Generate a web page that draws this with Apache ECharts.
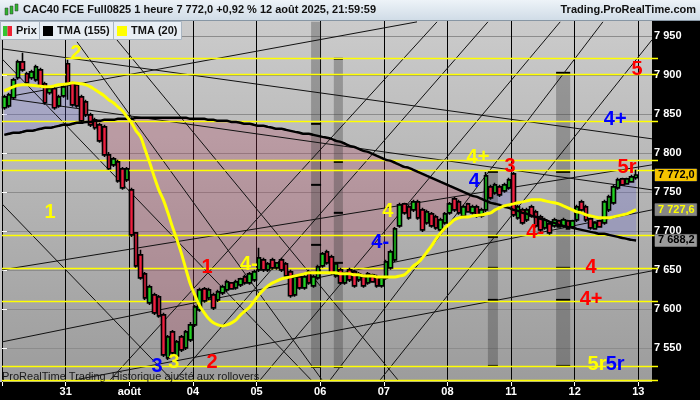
<!DOCTYPE html>
<html><head><meta charset="utf-8">
<script src="https://cdn.jsdelivr.net/npm/echarts@6/dist/echarts.min.js"></script>
<style>html,body{margin:0;padding:0;background:#000}#c{width:700px;height:400px}</style>
</head><body><div id="c"></div>
<script>
// ---- data ----
const dayNames = ['30/07','31/07','01/08','04/08','05/08','06/08','07/08','08/08','11/08','12/08','13/08'];
const hours = ['08h','09h','10h','11h','12h','13h','14h','15h','16h','17h','18h','19h','20h','21h'];
const dayTickLabels = ['31','août','04','05','06','07','08','11','12','13'];
const yTicks = [7550,7600,7650,7700,7750,7800,7850,7900,7950];

const openP = [7857.9,7860.4,7870.7,7896.3,7916.7,7901.4,7896.3,7893.7,7906.5,7888.6,
7877.1,7882.2,7860.4,7873.2,7914.2,7889.9,7887.3,7871.9,7865.5,7848.9,
7842.5,7836.1,7833.5,7797.7,7784.9,7788.7,7779.8,7765.7,7752.9,7697.9,
7669.7,7645.4,7608.3,7618.5,7616.0,7592.9,7537.9,7571.1,7540.4,7564.7,
7550.7,7560.9,7580.1,7599.3,7626.2,7614.7,7618.5,7612.1,7621.1,7624.9,
7633.9,7627.5,7631.3,7641.5,7633.9,7637.7,7650.5,7663.3,7650.5,7663.3,
7653.1,7663.3,7658.2,7647.9,7618.5,7641.5,7627.5,7647.9,7630.0,7640.3,
7655.6,7673.5,7667.1,7642.8,7650.5,7633.9,7650.5,7647.9,7637.7,7641.5,
7633.9,7644.1,7641.5,7630.0,7640.3,7653.1,7663.3,7706.8,7735.0,7731.1,
7727.3,7737.5,7727.3,7710.7,7722.2,7718.3,7701.7,7710.7,7723.5,7741.4,
7737.5,7719.6,7735.0,7723.5,7731.1,7719.6,7727.3,7756.7,7749.1,7756.7,
7751.6,7755.5,7773.4,7717.1,7727.3,7714.5,7731.1,7724.7,7718.3,7704.3,
7709.4,7706.8,7713.2,7706.8,7713.2,7705.5,7714.5,7737.5,7731.1,7715.8,
7703.0,7713.2,7710.7,7727.3,7736.3,7755.5,7767.0,7760.6,7763.1,7768.3];
const closeP = [7871.9,7874.5,7893.7,7916.7,7906.5,7889.9,7903.9,7910.3,7886.0,7864.3,
7882.2,7857.9,7871.9,7884.7,7889.9,7861.7,7860.4,7841.2,7848.9,7836.1,
7832.3,7815.6,7797.7,7780.0,7792.6,7764.4,7755.5,7779.8,7695.3,7655.6,
7640.3,7614.7,7628.7,7595.5,7591.6,7541.7,7564.7,7544.3,7558.3,7548.1,
7571.1,7580.1,7603.1,7624.9,7610.8,7624.9,7601.9,7622.3,7628.7,7635.1,
7626.2,7635.1,7639.0,7633.9,7645.4,7647.9,7665.9,7650.5,7658.2,7653.1,
7659.5,7650.5,7642.8,7617.3,7641.5,7627.5,7641.5,7633.9,7641.5,7654.3,
7671.0,7659.5,7646.7,7658.2,7633.9,7645.4,7637.7,7630.0,7645.4,7630.0,
7645.4,7635.1,7630.0,7640.3,7660.7,7673.5,7703.0,7733.7,7723.5,7717.1,
7737.5,7717.1,7701.7,7724.7,7706.8,7704.3,7714.5,7722.2,7735.0,7727.3,
7723.5,7731.1,7724.7,7731.1,7719.6,7727.3,7770.8,7742.7,7759.3,7746.5,
7759.3,7765.7,7720.9,7731.1,7710.7,7727.3,7719.6,7706.8,7701.7,7714.5,
7697.9,7714.5,7705.5,7714.5,7703.0,7713.2,7731.1,7727.3,7714.5,7704.3,
7710.7,7705.5,7737.5,7743.9,7756.7,7765.7,7759.3,7767.0,7769.5,7772.0];
const lowP = [7855.3,7857.9,7868.1,7893.7,7903.9,7887.3,7893.7,7891.1,7883.5,7861.7,
7874.5,7855.3,7857.9,7870.7,7868.1,7859.1,7857.9,7838.7,7846.3,7833.5,
7829.7,7813.1,7795.1,7778.5,7782.3,7761.9,7752.9,7763.1,7692.7,7653.1,
7637.7,7612.1,7605.7,7592.9,7589.1,7539.1,7535.3,7541.7,7537.9,7545.5,
7548.1,7558.3,7577.5,7596.8,7608.3,7612.1,7599.3,7609.5,7618.5,7622.3,
7624.9,7624.9,7628.7,7631.3,7631.3,7635.1,7647.9,7647.9,7647.9,7650.5,
7650.5,7647.9,7640.3,7614.7,7616.0,7624.9,7624.9,7631.3,7627.5,7637.7,
7653.1,7656.9,7644.1,7640.3,7631.3,7631.3,7635.1,7627.5,7635.1,7627.5,
7631.3,7633.9,7627.5,7627.5,7637.7,7650.5,7660.7,7704.3,7720.9,7714.5,
7724.7,7714.5,7699.1,7708.1,7704.3,7701.7,7699.1,7708.1,7720.9,7724.7,
7720.9,7717.1,7723.5,7720.9,7717.1,7717.1,7724.7,7740.1,7746.5,7743.9,
7749.1,7752.9,7718.3,7714.5,7708.1,7711.9,7717.1,7704.3,7699.1,7701.7,
7695.3,7704.3,7704.3,7704.3,7701.7,7704.3,7711.9,7724.7,7711.9,7701.7,
7701.7,7704.3,7708.1,7724.7,7733.7,7752.9,7758.0,7759.3,7761.9,7765.7];
const highP = [7874.5,7877.1,7896.3,7919.3,7928.3,7903.9,7906.5,7912.9,7909.1,7891.1,
7884.7,7884.7,7874.5,7887.3,7919.3,7891.1,7889.9,7874.5,7868.1,7851.5,
7845.1,7838.7,7836.1,7801.5,7795.1,7791.3,7782.3,7782.3,7755.5,7699.1,
7676.1,7647.9,7631.3,7621.1,7618.5,7595.5,7567.3,7573.7,7560.9,7567.3,
7573.7,7583.9,7605.7,7627.5,7628.7,7627.5,7621.1,7624.9,7631.3,7637.7,
7635.1,7637.7,7640.3,7644.1,7647.9,7650.5,7678.7,7665.9,7660.7,7665.9,
7660.7,7665.9,7660.7,7650.5,7644.1,7644.1,7644.1,7650.5,7644.1,7656.9,
7673.5,7676.1,7669.7,7660.7,7653.1,7647.9,7653.1,7650.5,7647.9,7644.1,
7647.9,7645.4,7644.1,7642.8,7663.3,7676.1,7705.5,7736.3,7736.3,7733.7,
7740.1,7740.1,7729.9,7727.3,7724.7,7720.9,7717.1,7724.7,7737.5,7743.9,
7740.1,7733.7,7736.3,7733.7,7733.7,7729.9,7775.9,7759.3,7761.9,7759.3,
7761.9,7768.3,7775.9,7733.7,7729.9,7729.9,7733.7,7727.3,7720.9,7717.1,
7711.9,7717.1,7714.5,7717.1,7714.5,7714.5,7733.7,7740.1,7733.7,7717.1,
7711.9,7714.5,7740.1,7746.5,7759.3,7768.3,7768.3,7768.3,7772.1,7778.5];
const tma20 = [7879.6,7882.2,7884.7,7886.7,7887.3,7887.3,7886.7,7886.0,7885.4,7884.7,
7884.7,7886.0,7887.3,7887.9,7888.6,7889.9,7889.2,7888.6,7887.3,7884.7,
7880.9,7877.1,7873.2,7868.1,7864.3,7859.1,7854.0,7846.3,7838.7,7828.4,
7820.7,7804.1,7787.5,7769.5,7752.9,7740.1,7723.5,7705.5,7688.9,7671.0,
7650.5,7631.3,7617.3,7604.4,7595.5,7587.8,7582.7,7580.1,7578.8,7580.1,
7582.7,7586.5,7592.9,7598.0,7603.1,7610.8,7618.5,7624.9,7630.0,7633.9,
7636.4,7639.0,7640.3,7641.5,7642.8,7644.1,7645.4,7646.7,7646.7,7646.7,
7646.7,7646.7,7646.7,7646.7,7645.4,7645.4,7645.4,7644.1,7644.1,7642.8,
7642.8,7642.8,7641.5,7641.5,7641.5,7641.5,7641.5,7642.8,7644.1,7649.2,
7655.6,7659.5,7665.9,7673.5,7681.2,7690.2,7697.9,7704.3,7709.4,7714.5,
7717.1,7718.3,7718.3,7719.6,7720.2,7720.9,7722.2,7723.5,7727.3,7729.9,
7732.4,7733.7,7735.0,7736.3,7737.5,7738.8,7740.1,7740.1,7740.1,7738.8,
7737.5,7736.3,7735.0,7732.4,7729.9,7727.3,7724.7,7723.5,7720.9,7719.6,
7718.3,7717.1,7717.1,7717.1,7718.3,7719.6,7720.9,7722.2,7724.7,7727.6];
const tma155 = [7823.3,7824.6,7825.9,7825.9,7827.1,7828.4,7828.4,7829.7,7831.0,7832.3,
7832.3,7833.5,7834.8,7836.1,7836.1,7837.4,7838.7,7838.7,7839.9,7839.9,
7841.2,7841.2,7842.5,7842.5,7842.5,7843.8,7843.8,7843.8,7843.8,7845.1,
7845.1,7845.1,7845.1,7845.1,7845.1,7845.1,7845.1,7845.1,7845.1,7845.1,
7845.1,7843.8,7843.8,7843.8,7843.8,7842.5,7842.5,7841.2,7841.2,7841.2,
7839.9,7839.9,7838.7,7837.4,7837.4,7836.1,7834.8,7834.8,7833.5,7832.3,
7831.0,7831.0,7829.7,7828.4,7827.1,7825.9,7824.6,7824.6,7823.3,7822.0,
7820.7,7819.5,7818.2,7815.6,7814.3,7811.8,7809.2,7807.9,7805.4,7802.8,
7801.5,7799.0,7796.4,7793.9,7791.3,7790.0,7787.5,7784.9,7782.3,7781.1,
7778.5,7775.9,7773.4,7770.8,7768.3,7765.7,7763.1,7760.6,7758.0,7755.5,
7752.9,7750.3,7747.8,7745.2,7743.9,7741.4,7738.8,7736.3,7735.0,7733.7,
7731.1,7729.9,7727.3,7726.0,7723.5,7722.2,7719.6,7718.3,7715.8,7714.5,
7711.9,7710.7,7708.1,7706.8,7705.5,7704.3,7703.0,7701.7,7700.4,7699.1,
7697.9,7696.6,7696.6,7695.3,7694.0,7692.7,7691.4,7690.2,7688.9,7688.2];

// user-drawn objects (slot units along the time axis, price units)
const levelLines = [[7921.8,14],[7901.4,0],[7841.2,0],[7791.3,0],[7778.5,0],[7695.3,0],[7653.1,0],[7610.8,0],[7527.6,0],[7509.0,0]];
const trendLines = [
 [0,7933.4,143,7818.2],[0,7870.7,143,7752.9],[0,7870.7,91.3,7967.9],
 [0,7650.5,143,7784.9],[0,7558.3,143,7727.3],[16.1,7509.7,143,7649.2],
 [0,7735.0,37.4,7509.7],[0,7920.6,68.0,7509.7],[16.5,7942.3,70.4,7509.7],[22.0,7967.9,87.1,7509.7],
 [23.8,7509.7,95.7,7967.9],[38.1,7509.7,106.9,7967.9],[56.8,7509.7,122.8,7967.9],[72.2,7509.7,132.2,7967.9],[83.2,7509.7,143,7944.9]
];
const bands = [[68.0,70.2,7967.9,7526.3],[73.0,75.0,7920.6,7526.3],[106.9,109.1,7775.9,7526.3],[121.9,125.0,7902.7,7526.3]];
const bandMarks = [[0,7837.4],[0,7759.3],[0,7682.5],[0,7526.3],
 [1,7920.6],[1,7788.7],[1,7723.5],[1,7659.5],[1,7526.3],
 [2,7775.9],[2,7692.7],[2,7653.1],[2,7612.1],[2,7527.6],
 [3,7902.7],[3,7775.9],[3,7653.1],[3,7612.1],[3,7527.6]];
const notes = [
 ['1','#ffff00',10.6,7723.5],['2','#ffff00',16.3,7927.0],['3','#0000ff',34.1,7526.3],['3','#ffff00',37.8,7531.4],
 ['2','#ff0000',46.2,7531.4],['1','#ff0000',45.1,7653.1],['4-','#ffff00',54.3,7656.9],['4','#ffff00',84.9,7724.7],
 ['4-','#0000ff',83.2,7685.1],['4+','#ffff00',104.7,7793.9],['4','#0000ff',103.9,7763.1],['3','#ff0000',111.8,7782.3],
 ['4-','#ff0000',117.3,7697.9],['5','#ff0000',139.7,7906.5],['4+','#0000ff',134.9,7842.5],['5r','#ff0000',137.5,7781.1],
 ['4','#ff0000',129.6,7653.1],['4+','#ff0000',129.6,7612.1],['5r','#ffff00',130.9,7528.9],['5r','#0000ff',134.9,7528.9]
];

// ---- build ----
const categories = [];
for (let d = 0; d < 10; d++) for (const h of hours) categories.push(dayNames[d] + ' ' + h);
categories.push(dayNames[10] + ' 08h', dayNames[10] + ' 09h', dayNames[10] + ' 10h');
const NS = categories.length; // 143 slots
const candles = openP.map((o, i) => [o, closeP[i], lowP[i], highP[i]]);
const posDiff = closeP.map((c, i) => Math.max(c - tma155[i], 0));
const negDiff = closeP.map((c, i) => Math.max(tma155[i] - c, 0));
const thou = s => s.replace(/\B(?=(\d{3})+(?!\d))/g, ' ');
const fmt0 = v => thou(String(Math.round(v)));
const fmt1 = v => { const p = v.toFixed(1).split('.'); return thou(p[0]) + ',' + p[1]; };
const FONT = '"Liberation Sans", Arial, sans-serif';
const tickSlots = [0]; for (let k = 1; k <= 10; k++) tickSlots.push(14 * k);

const chart = echarts.init(document.getElementById('c'), null, {renderer: 'canvas'});
const grid = {left: 2, right: 48, top: 21, bottom: 18, show: true, borderWidth: 0,
  backgroundColor: {type: 'linear', x: 0, y: 0, x2: 0, y2: 1, colorStops: [{offset: 0, color: '#cbcbcb'}, {offset: 1, color: '#9c9c9c'}]}};

function lastLabel(bg, fg, fmtVal) {
  return {show: true, position: 'end', distance: 3, backgroundColor: bg, color: fg, fontFamily: FONT, fontWeight: 'bold', fontSize: 11,
    padding: [1, 2, 0, 3], borderColor: '#555', borderWidth: 0.5, formatter: () => fmt1(fmtVal)};
}
function lastMark(val, bg, fg) {
  return {silent: true, symbol: ['none', 'none'], animation: false,
    lineStyle: {color: 'rgba(0,0,0,0)', width: 1, type: 'solid'},
    data: [{yAxis: val}], label: lastLabel(bg, fg, val)};
}

chart.setOption({
  backgroundColor: '#000',
  animation: false,
  grid: grid,
  xAxis: [
    {type: 'category', data: categories, boundaryGap: true, show: false, position: 'top'},
    {type: 'value', min: 0, max: NS, position: 'bottom',
      axisLine: {show: false},
      axisTick: {show: true, customValues: tickSlots, length: 4, lineStyle: {color: '#fff'}},
      axisLabel: {customValues: tickSlots.slice(1), color: '#fff', fontFamily: FONT, fontWeight: 'bold', fontSize: 11, margin: 4,
        formatter: v => dayTickLabels[Math.round(v / 14) - 1] || ''},
      splitLine: {show: true, lineStyle: {color: '#000', width: 1}}}
  ],
  yAxis: {type: 'value', position: 'right', min: 7507, max: 7969, scale: true,
    axisLine: {show: false},
    axisTick: {show: true, customValues: yTicks, length: 5, lineStyle: {color: '#fff'}},
    axisLabel: {customValues: yTicks, color: '#fff', fontFamily: FONT, fontWeight: 'bold', fontSize: 11, margin: 2, formatter: v => fmt0(v)},
    splitLine: {show: true, lineStyle: {color: '#8c8c8c', width: 1}}},
  series: [
    // fill between close and TMA(155)
    {type: 'line', stack: 'pos', data: tma155, showSymbol: false, lineStyle: {opacity: 0}, silent: true, z: 1},
    {type: 'line', stack: 'pos', data: posDiff, showSymbol: false, lineStyle: {opacity: 0}, silent: true, z: 1,
      areaStyle: {color: 'rgba(90,90,210,0.36)'}},
    {type: 'line', stack: 'neg', data: closeP, showSymbol: false, lineStyle: {opacity: 0}, silent: true, z: 1},
    {type: 'line', stack: 'neg', data: negDiff, showSymbol: false, lineStyle: {opacity: 0}, silent: true, z: 1,
      areaStyle: {color: 'rgba(180,65,95,0.38)'}},
    // vertical bands
    {type: 'custom', xAxisIndex: 1, data: bands, silent: true, z: 2, clip: true,
      renderItem: (p, api) => {
        const a = api.coord([api.value(0), api.value(2)]), b = api.coord([api.value(1), api.value(3)]);
        return {type: 'rect', shape: {x: a[0], y: a[1], width: b[0] - a[0], height: b[1] - a[1]}, style: {fill: 'rgba(55,55,55,0.33)'}};
      }},
    {type: 'custom', xAxisIndex: 1, data: bandMarks, silent: true, z: 3, clip: true,
      renderItem: (p, api) => {
        const bd = bands[api.value(0)];
        const a = api.coord([bd[0], api.value(1)]), b = api.coord([bd[1], api.value(1)]);
        return {type: 'line', shape: {x1: a[0], y1: a[1], x2: b[0], y2: b[1]}, style: {stroke: '#000', lineWidth: 2}};
      }},
    // trend lines
    {type: 'custom', xAxisIndex: 1, data: trendLines, silent: true, z: 3, clip: true,
      renderItem: (p, api) => {
        const a = api.coord([api.value(0), api.value(1)]), b = api.coord([api.value(2), api.value(3)]);
        return {type: 'line', shape: {x1: a[0], y1: a[1], x2: b[0], y2: b[1]}, style: {stroke: '#111', lineWidth: 1}};
      }},
    // horizontal levels
    {type: 'custom', xAxisIndex: 1, data: levelLines.map(l => [l[1], l[0]]), silent: true, z: 4, clip: false,
      renderItem: (p, api) => {
        const a = api.coord([api.value(0), api.value(1)]), b = api.coord([NS, api.value(1)]);
        return {type: 'line', shape: {x1: a[0], y1: Math.round(a[1]) + 0.5, x2: b[0] + 6, y2: Math.round(a[1]) + 0.5}, style: {stroke: '#ffff00', lineWidth: 1.5}};
      }},
    // price
    {type: 'candlestick', name: 'Prix', data: candles, barWidth: 4, z: 5,
      itemStyle: {color: '#22d022', color0: '#ee2040', borderColor: '#000', borderColor0: '#000', borderWidth: 1.6},
      markLine: lastMark(closeP[closeP.length - 1], '#f5c400', '#000')},
    {type: 'line', name: 'TMA (155)', data: tma155, showSymbol: false, smooth: 0.3, z: 6, lineStyle: {color: '#000', width: 2.5},
      markLine: lastMark(tma155[tma155.length - 1], '#9a9a9a', '#000')},
    {type: 'line', name: 'TMA (20)', data: tma20, showSymbol: false, smooth: 0.3, z: 7, lineStyle: {color: '#ffff00', width: 3},
      markLine: lastMark(tma20[tma20.length - 1], '#858585', '#ffff00')},
    // text notes
    {type: 'custom', xAxisIndex: 1, data: notes.map(n => [n[2], n[3]]), silent: true, z: 9, clip: false,
      renderItem: (p, api) => {
        const a = api.coord([api.value(0), api.value(1)]);
        const n = notes[p.dataIndex];
        return {type: 'text', x: a[0], y: a[1], style: {text: n[0], fill: n[1], font: 'bold 20px ' + FONT, align: 'center', verticalAlign: 'middle'}};
      }}
  ],
  graphic: [
    {type: 'rect', z: 0, shape: {x: 0, y: 21, width: 2, height: 361}, style: {fill: '#c2c2c2'}},
    {type: 'text', z: 8, left: 2, top: 371, style: {text: 'ProRealTime Trading  Historique ajusté aux rollovers', fill: '#1a1a1a', font: '11px ' + FONT}},
    {type: 'rect', z: 50, shape: {x: 0, y: 0, width: 700, height: 21},
      style: {fill: {type: 'linear', x: 0, y: 0, x2: 0, y2: 1, colorStops: [{offset: 0, color: '#edf3f8'}, {offset: 1, color: '#cfdbe6'}]}}},
    {type: 'line', z: 51, shape: {x1: 0, y1: 20.5, x2: 700, y2: 20.5}, style: {stroke: '#8796a4', lineWidth: 1}},
    {type: 'rect', z: 52, shape: {x: 5, y: 8, width: 3, height: 7}, style: {fill: '#2fb52f', stroke: '#333', lineWidth: 0.5}},
    {type: 'rect', z: 52, shape: {x: 10, y: 6, width: 3, height: 8}, style: {fill: '#2fb52f', stroke: '#333', lineWidth: 0.5}},
    {type: 'rect', z: 52, shape: {x: 15, y: 4, width: 3, height: 7}, style: {fill: '#2fb52f', stroke: '#333', lineWidth: 0.5}},
    {type: 'text', z: 52, left: 23, top: 4, style: {text: 'CAC40 FCE Full0825 1 heure 7 772,0 +0,92 % 12 août 2025, 21:59:59', fill: '#111', font: 'bold 11px ' + FONT}},
    {type: 'text', z: 52, right: 4, top: 4, style: {text: 'Trading.ProRealTime.com', fill: '#111', font: 'bold 11px ' + FONT}},
    {type: 'rect', z: 50, shape: {x: 0.5, y: 21.5, width: 181, height: 18}, style: {fill: '#e8eef4', stroke: '#a9b5c1', lineWidth: 1}},
    {type: 'line', z: 51, shape: {x1: 39.5, y1: 22, x2: 39.5, y2: 39}, style: {stroke: '#a9b5c1', lineWidth: 1}},
    {type: 'line', z: 51, shape: {x1: 113.5, y1: 22, x2: 113.5, y2: 39}, style: {stroke: '#a9b5c1', lineWidth: 1}},
    {type: 'rect', z: 52, shape: {x: 3, y: 26, width: 4.5, height: 10}, style: {fill: '#33c433'}},
    {type: 'rect', z: 52, shape: {x: 7.5, y: 26, width: 4.5, height: 10}, style: {fill: '#ee2233'}},
    {type: 'text', z: 52, left: 16, top: 25, style: {text: 'Prix', fill: '#111', font: 'bold 11px ' + FONT}},
    {type: 'rect', z: 52, shape: {x: 43, y: 26, width: 10, height: 10}, style: {fill: '#000'}},
    {type: 'text', z: 52, left: 57, top: 25, style: {text: 'TMA (155)', fill: '#111', font: 'bold 11px ' + FONT}},
    {type: 'rect', z: 52, shape: {x: 117, y: 26, width: 10, height: 10}, style: {fill: '#ffff00'}},
    {type: 'text', z: 52, left: 131, top: 25, style: {text: 'TMA (20)', fill: '#111', font: 'bold 11px ' + FONT}}
  ]
});
</script>
</body></html>
